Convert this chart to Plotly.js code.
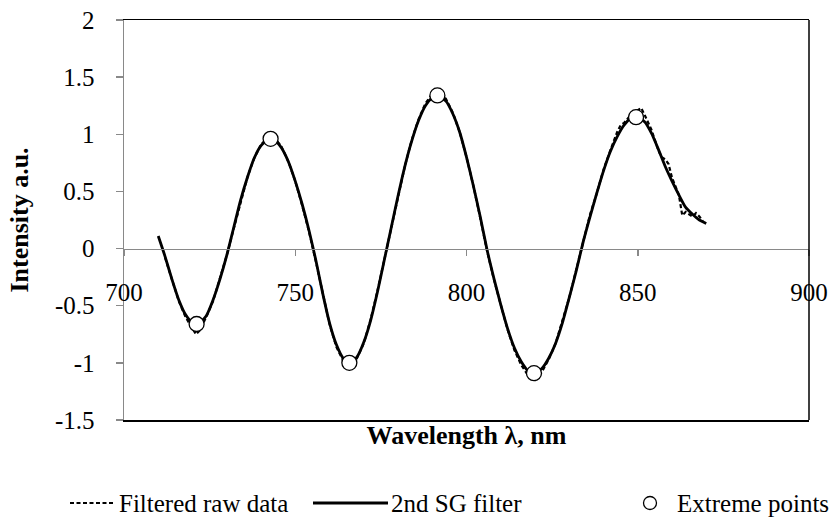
<!DOCTYPE html>
<html>
<head>
<meta charset="utf-8">
<script src="https://cdn.plot.ly/plotly-3.0.1.min.js"></script>
<style>
  html, body { margin: 0; padding: 0; background: #fff; }
  #chart { width: 831px; height: 525px; }
</style>
</head>
<body>
<div id="chart"></div>
<script>
// Filtered raw spectrum (wavelength in nm, intensity in a.u.)
const rawWl = [712, 714, 716, 718, 720, 721, 722, 724, 726, 728, 730, 732, 734, 736, 738, 740, 742, 744, 745, 746, 748,
  750, 752, 754, 756, 758, 760, 762, 764, 766, 768, 770, 772, 774, 776, 778, 780, 782, 784, 786, 788, 790, 792,
  794, 796, 798, 800, 802, 804, 806, 808, 810, 812, 814, 816, 818, 820, 822, 824, 826, 828, 830, 832, 834, 836,
  838, 840, 842, 844, 845, 846, 848, 850, 851, 852, 854, 856, 857, 858, 859, 860, 862, 863, 864, 865, 866, 867, 868, 869];
const rawInt = [-0.08, -0.28, -0.46, -0.60, -0.70, -0.75, -0.72, -0.60, -0.46, -0.27, -0.06, 0.17, 0.40, 0.62, 0.79, 0.91, 0.97, 0.97, 0.93, 0.89, 0.76,
  0.59, 0.38, 0.15, -0.11, -0.40, -0.66, -0.86, -0.98, -1.02, -0.96, -0.83, -0.62, -0.37, -0.09, 0.19, 0.47, 0.72, 0.95, 1.13, 1.27, 1.35, 1.37,
  1.31, 1.19, 1.02, 0.80, 0.55, 0.27, -0.02, -0.27, -0.50, -0.71, -0.89, -1.02, -1.11, -1.15, -1.08, -0.97, -0.83, -0.64, -0.43, -0.19, 0.06, 0.29,
  0.48, 0.69, 0.86, 1.02, 1.08, 1.10, 1.17, 1.21, 1.23, 1.17, 1.04, 0.86, 0.80, 0.78, 0.74, 0.62, 0.47, 0.29, 0.32, 0.30, 0.28, 0.31, 0.28, 0.24];

// Second-order Savitzky-Golay smoothed spectrum
const sgWl = [710, 712, 714, 716, 718, 720, 721.2, 722, 724, 726, 728, 730, 732, 734, 736, 738, 740, 742, 742.8, 744, 746, 748,
  750, 752, 754, 756, 758, 760, 762, 764, 765.8, 768, 770, 772, 774, 776, 778, 780, 782, 784, 786, 788, 790, 791.5,
  794, 796, 798, 800, 802, 804, 806, 808, 810, 812, 814, 816, 818, 819.7, 822, 824, 826, 828, 830, 832, 834, 836,
  838, 840, 842, 844, 846, 848, 849.5, 852, 854, 856, 858, 860, 862, 864, 866, 868, 870];
const sgInt = [0.11, -0.07, -0.27, -0.45, -0.58, -0.65, -0.66, -0.65, -0.59, -0.45, -0.27, -0.06, 0.18, 0.42, 0.62, 0.79, 0.90, 0.955, 0.96, 0.95, 0.88, 0.76,
  0.59, 0.39, 0.16, -0.10, -0.39, -0.65, -0.84, -0.96, -1.00, -0.95, -0.82, -0.63, -0.38, -0.10, 0.18, 0.46, 0.72, 0.94, 1.12, 1.25, 1.32, 1.34,
  1.29, 1.18, 1.02, 0.80, 0.55, 0.28, -0.01, -0.26, -0.49, -0.70, -0.87, -0.99, -1.07, -1.09, -1.05, -0.96, -0.83, -0.65, -0.43, -0.20, 0.05, 0.27,
  0.48, 0.68, 0.85, 0.98, 1.08, 1.14, 1.15, 1.11, 1.01, 0.87, 0.72, 0.59, 0.47, 0.36, 0.30, 0.25, 0.22];

// Local maxima and minima of the smoothed curve
const extWl = [721.2, 742.8, 765.8, 791.5, 819.7, 849.5];
const extInt = [-0.66, 0.96, -1.00, 1.34, -1.09, 1.15];

// Axis ticks
const xTickVals = [700, 750, 800, 850, 900];
const xTickText = ['700', '750', '800', '850', '900'];
const yTickVals = [-1.5, -1, -0.5, 0, 0.5, 1, 1.5, 2];
const yTickText = ['-1.5', '-1', '-0.5', '0', '0.5', '1', '1.5', '2'];

const seriesNames = ['Filtered raw data', '2nd SG filter', 'Extreme points'];

const FONT = "'Liberation Serif', 'Times New Roman', serif";
const GREY = '#898989';
const TICK_SIZE = 25, TITLE_SIZE = 26, LEGEND_SIZE = 25;
const W = 831, H = 525;
const M = { l: 124, r: 22, t: 20, b: 105 };
const plotW = W - M.l - M.r, plotH = H - M.t - M.b;
const px = x => (x - M.l) / plotW;          // pixel column -> paper x
const py = y => (H - M.b - y) / plotH;      // pixel row -> paper y

const traces = [
  {
    x: rawWl, y: rawInt, name: seriesNames[0], type: 'scatter', mode: 'lines',
    line: { color: '#000', width: 2.2, dash: '4px,2.5px' }, xaxis: 'x', yaxis: 'y'
  },
  {
    x: sgWl, y: sgInt, name: seriesNames[1], type: 'scatter', mode: 'lines',
    line: { color: '#000', width: 2.8, shape: 'spline', smoothing: 0.6 }, xaxis: 'x', yaxis: 'y'
  },
  {
    x: extWl, y: extInt, name: seriesNames[2], type: 'scatter', mode: 'markers',
    marker: { symbol: 'circle', size: 15, color: '#fff', line: { color: '#000', width: 1.3 } },
    xaxis: 'x2', yaxis: 'y'
  }
];

// Legend row under the plot
const legY = py(503);
const shapes = [
  { type: 'line', xref: 'paper', yref: 'paper', x0: 1, x1: 1, y0: 0, y1: 1, line: { color: '#000', width: 1.5 } },
  { type: 'line', xref: 'paper', yref: 'paper', x0: px(70), x1: px(114), y0: legY, y1: legY, line: { color: '#000', width: 2.2, dash: '4px,2.5px' } },
  { type: 'line', xref: 'paper', yref: 'paper', x0: px(313), x1: px(388), y0: legY, y1: legY, line: { color: '#000', width: 2.8 } },
  { type: 'circle', xref: 'paper', yref: 'paper', xsizemode: 'pixel', ysizemode: 'pixel',
    xanchor: px(650), yanchor: legY, x0: -6.5, x1: 6.5, y0: -6.5, y1: 6.5, line: { color: '#000', width: 1.3 }, fillcolor: '#fff' }
];
const legText = (t, x) => ({
  text: t, xref: 'paper', yref: 'paper', x: px(x), y: legY, xanchor: 'left', yanchor: 'middle',
  showarrow: false, font: { family: FONT, size: LEGEND_SIZE, color: '#000' }
});
const annotations = [
  legText(seriesNames[0], 117),
  legText(seriesNames[1], 389),
  legText(seriesNames[2], 675)
];

const layout = {
  width: W, height: H,
  margin: M,
  paper_bgcolor: '#fff', plot_bgcolor: '#fff',
  showlegend: false,
  font: { family: FONT, size: TICK_SIZE, color: '#000' },
  xaxis: {
    range: [700, 900], showgrid: false, zeroline: false,
    showline: true, linecolor: '#000', linewidth: 1.5, mirror: true,
    ticks: '', showticklabels: false, automargin: false,
    title: { text: 'Wavelength λ, nm', font: { family: FONT, size: TITLE_SIZE, weight: 'bold', color: '#000' }, standoff: 5 }
  },
  xaxis2: {
    overlaying: 'x', anchor: 'free', position: 1.5 / 3.5, side: 'bottom',
    range: [700, 900], showgrid: false, zeroline: false,
    showline: true, linecolor: GREY, linewidth: 1.5,
    ticks: 'outside', ticklen: 6, tickwidth: 1.5, tickcolor: GREY,
    tickvals: xTickVals, ticktext: xTickText, ticklabelstandoff: 15,
    tickfont: { family: FONT, size: TICK_SIZE, color: '#000' }, automargin: false
  },
  yaxis: {
    range: [-1.5, 2], showgrid: false, zeroline: false,
    showline: true, linecolor: GREY, linewidth: 1.5,
    ticks: 'outside', ticklen: 7, tickwidth: 1.5, tickcolor: GREY,
    tickvals: yTickVals, ticktext: yTickText, ticklabelstandoff: 16,
    tickfont: { family: FONT, size: TICK_SIZE, color: '#000' }, automargin: false,
    title: { text: 'Intensity a.u.', font: { family: FONT, size: TITLE_SIZE, weight: 'bold', color: '#000' }, standoff: 19 }
  },
  shapes: shapes,
  annotations: annotations
};

Plotly.newPlot('chart', traces, layout, { staticPlot: true, displayModeBar: false });
</script>
</body>
</html>
